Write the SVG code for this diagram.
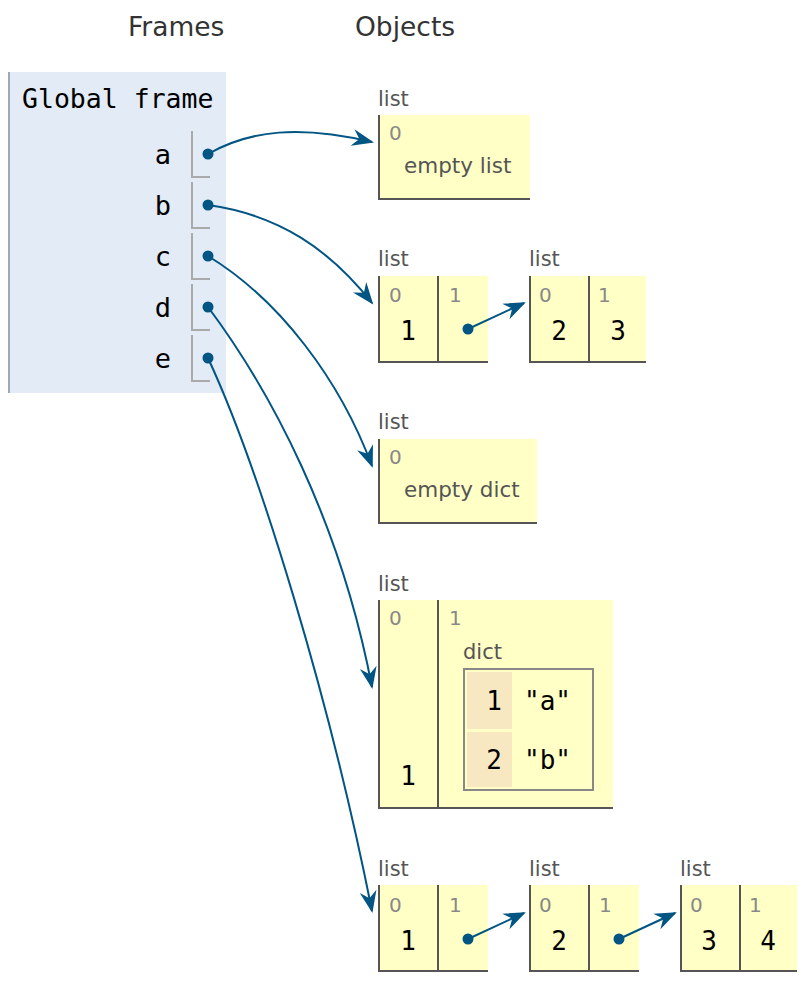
<svg xmlns="http://www.w3.org/2000/svg" width="808" height="984" viewBox="0 0 808 984">
<style>
.hdr{font-family:"DejaVu Sans",Verdana,sans-serif;font-size:26.5px;fill:#333}
.gf{font-family:"DejaVu Sans Mono",monospace;font-size:26.5px;fill:#000}
.var{font-family:"DejaVu Sans Mono",monospace;font-size:27px;fill:#000;text-anchor:end}
.vbox{fill:none;stroke:#aaa;stroke-width:2}
.dot{fill:#005583}
.type{font-family:"DejaVu Sans",Verdana,sans-serif;font-size:21px;fill:#555}
.idx{font-family:"DejaVu Sans",Verdana,sans-serif;font-size:20px;fill:#888}
.val{font-family:"DejaVu Sans Mono",monospace;font-size:26px;fill:#000;text-anchor:middle}
.cell{fill:#ffffc6}
.bd{stroke:#555;stroke-width:2;fill:none}
.conn{fill:none;stroke:#005583;stroke-width:2}
</style>
<defs>
<marker id="arr" markerUnits="userSpaceOnUse" markerWidth="26" markerHeight="20" viewBox="-23 -10 26 20" refX="0" refY="0" orient="auto">
<path d="M2,0 L-20,-8.5 L-13,0 L-20,8.5 Z" fill="#005583"/>
</marker>
</defs>
<rect width="808" height="984" fill="#fff"/>
<text class="hdr" x="128" y="36">Frames</text>
<text class="hdr" x="355" y="36">Objects</text>

<g id="global-frame">
<rect x="8" y="72" width="218" height="321" fill="#e2ebf6"/>
<line x1="9" y1="72" x2="9" y2="393" stroke="#a0a8b0" stroke-width="2"/>
<text class="gf" x="22" y="108">Global frame</text>
<text class="var" x="171" y="164">a</text>
<text class="var" x="171" y="215">b</text>
<text class="var" x="171" y="266">c</text>
<text class="var" x="171" y="317">d</text>
<text class="var" x="171" y="368">e</text>
<path class="vbox" d="M192,131 V177 H210 M192,182 V228 H210 M192,233 V279 H210 M192,284 V330 H210 M192,335 V381 H210"/>
<circle class="dot" cx="208" cy="154" r="5.5"/>
<circle class="dot" cx="208" cy="205" r="5.5"/>
<circle class="dot" cx="208" cy="256" r="5.5"/>
<circle class="dot" cx="208" cy="307" r="5.5"/>
<circle class="dot" cx="208" cy="358" r="5.5"/>
</g>

<g id="list1">
<text class="type" x="378" y="106">list</text>
<rect class="cell" x="379" y="115" width="151" height="84"/>
<path class="bd" d="M379,115 V199 H530"/>
<text class="idx" x="389" y="140">0</text>
<text class="type" x="404" y="173" style="font-size:21.5px">empty list</text>
</g>

<g id="list2">
<text class="type" x="378" y="266">list</text>
<rect class="cell" x="379" y="276" width="109" height="86"/>
<path class="bd" d="M379,276 V362 H488 M438,276 V362"/>
<text class="idx" x="389" y="302">0</text>
<text class="idx" x="449" y="302">1</text>
<text class="val" x="408" y="340">1</text>
<circle class="dot" cx="468" cy="329" r="5.5"/>
</g>

<g id="list3">
<text class="type" x="529" y="266">list</text>
<rect class="cell" x="530" y="276" width="116" height="86"/>
<path class="bd" d="M530,276 V362 H646 M589,276 V362"/>
<text class="idx" x="539" y="302">0</text>
<text class="idx" x="598" y="302">1</text>
<text class="val" x="559" y="340">2</text>
<text class="val" x="618" y="340">3</text>
</g>

<g id="list4">
<text class="type" x="378" y="429">list</text>
<rect class="cell" x="379" y="439" width="158" height="84"/>
<path class="bd" d="M379,439 V523 H537"/>
<text class="idx" x="389" y="464">0</text>
<text class="type" x="404" y="497" style="font-size:21.5px">empty dict</text>
</g>

<g id="list5">
<text class="type" x="378" y="591">list</text>
<rect class="cell" x="379" y="600" width="234" height="208"/>
<path class="bd" d="M379,600 V808 H613 M438,600 V808"/>
<text class="idx" x="389" y="625">0</text>
<text class="idx" x="449" y="625">1</text>
<text class="val" x="408" y="785">1</text>
</g>

<g id="dict1">
<text class="type" x="463" y="659">dict</text>
<rect x="464" y="669" width="129" height="121" fill="#ffffc6" stroke="#888" stroke-width="2"/>
<rect x="467" y="672" width="45" height="57" fill="#f7e8c2"/>
<rect x="467" y="732" width="45" height="55" fill="#f7e8c2"/>
<text class="val" x="502" y="710" style="text-anchor:end">1</text>
<text class="val" x="502" y="769" style="text-anchor:end">2</text>
<text class="val" x="524" y="710" style="text-anchor:start">"a"</text>
<text class="val" x="524" y="769" style="text-anchor:start">"b"</text>
</g>

<g id="list6">
<text class="type" x="378" y="876">list</text>
<rect class="cell" x="379" y="885" width="109" height="86"/>
<path class="bd" d="M379,885 V971 H488 M438,885 V971"/>
<text class="idx" x="389" y="912">0</text>
<text class="idx" x="449" y="912">1</text>
<text class="val" x="408" y="950">1</text>
<circle class="dot" cx="468" cy="939" r="5.5"/>
</g>

<g id="list7">
<text class="type" x="529" y="876">list</text>
<rect class="cell" x="530" y="885" width="109" height="86"/>
<path class="bd" d="M530,885 V971 H639 M589,885 V971"/>
<text class="idx" x="539" y="912">0</text>
<text class="idx" x="599" y="912">1</text>
<text class="val" x="559" y="950">2</text>
<circle class="dot" cx="619" cy="939" r="5.5"/>
</g>

<g id="list8">
<text class="type" x="680" y="876">list</text>
<rect class="cell" x="681" y="885" width="116" height="86"/>
<path class="bd" d="M681,885 V971 H797 M740,885 V971"/>
<text class="idx" x="690" y="912">0</text>
<text class="idx" x="749" y="912">1</text>
<text class="val" x="709" y="950">3</text>
<text class="val" x="768" y="950">4</text>
</g>

<g id="connectors">
<path class="conn" marker-end="url(#arr)" d="M208,154 C250,130 300,125 372,142"/>
<path class="conn" marker-end="url(#arr)" d="M208,205 C280,215 330,250 372,303"/>
<path class="conn" marker-end="url(#arr)" d="M208,256 C280,300 340,380 372,466"/>
<path class="conn" marker-end="url(#arr)" d="M208,307 C270,390 340,520 372,687"/>
<path class="conn" marker-end="url(#arr)" d="M208,358 C260,470 330,700 372,911"/>
<path class="conn" marker-end="url(#arr)" d="M468,329 L524,303"/>
<path class="conn" marker-end="url(#arr)" d="M468,939 L524,913"/>
<path class="conn" marker-end="url(#arr)" d="M619,939 L675,913"/>
</g>
</svg>
